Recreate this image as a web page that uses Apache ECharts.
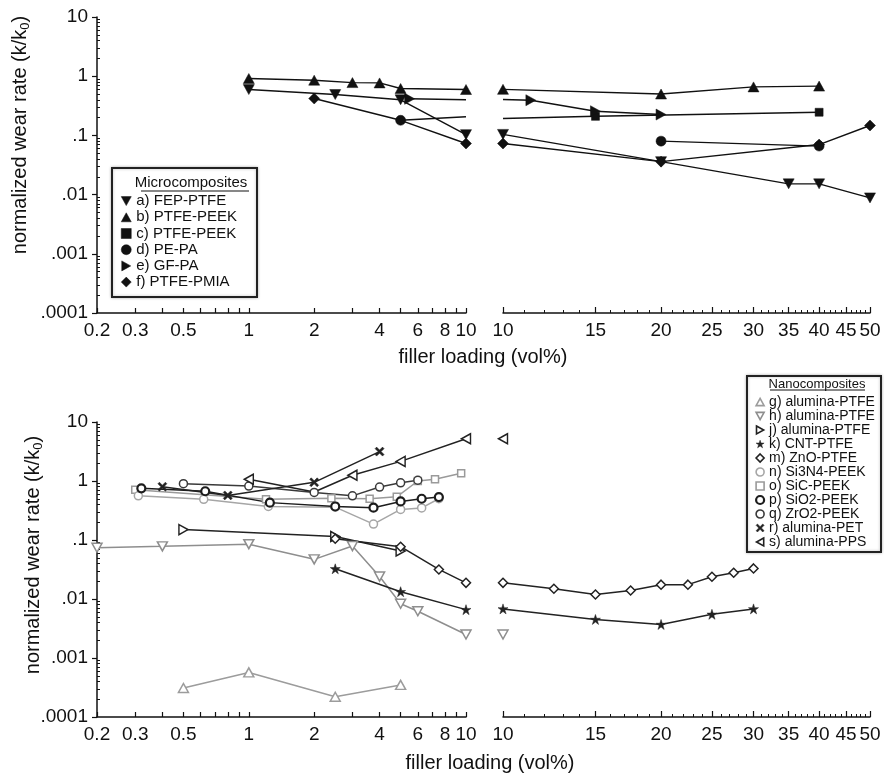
<!DOCTYPE html>
<html><head><meta charset="utf-8">
<script src="https://cdn.jsdelivr.net/npm/echarts@6/dist/echarts.min.js"></script>
<style>html,body{margin:0;padding:0;background:#fff}#c{width:884px;height:774px}</style>
</head><body><div id="c"></div>
<script>
// ---------- tick labels ----------
const xLeftLabels = [0.2, 0.3, 0.5, 1, 2, 4, 6, 8, 10];
const xLeftTicks = [0.2, 0.3, 0.4, 0.5, 0.6, 0.7, 0.8, 0.9, 1, 2, 3, 4, 5, 6, 7, 8, 9, 10];
const xRightLabels = [10, 15, 20, 25, 30, 35, 40, 45, 50];
const xRightMinorTicks = [11,12,13,14,16,17,18,19,21,22,23,24,26,27,28,29,31,32,33,34,36,37,38,39,41,42,43,44,46,47,48,49];
const yDecades = [0.0001, 0.001, 0.01, 0.1, 1, 10];
const yMinorMult = [2, 3, 4, 5, 6, 7, 8, 9];

// ---------- data: [filler loading vol%, normalized wear rate] ; third item 0 = point drawn without marker ----------
// Microcomposites
const a_left  = [[1, 0.595], [2.5, 0.49], [5, 0.40], [10, 0.103]];
const a_right = [[10, 0.104], [20, 0.036], [35, 0.0152], [40, 0.0152], [50, 0.0088]];
const b_left  = [[1, 0.914], [2, 0.856], [3, 0.78], [4, 0.77], [5, 0.62], [10, 0.596]];
const b_right = [[10, 0.60], [20, 0.50], [30, 0.66], [40, 0.68]];
const c_left  = [[5, 0.18, 0], [10, 0.206, 0]];
const c_right = [[10, 0.193, 0], [15, 0.21], [40, 0.246]];
const d_left  = [[5, 0.18]];
const d_right = [[20, 0.08], [40, 0.066]];
const e_left  = [[5.5, 0.415], [10, 0.40, 0]];
const e_right = [[10, 0.404, 0], [11.3, 0.393], [15, 0.256], [20, 0.225]];
const f_left  = [[2, 0.42], [5, 0.18, 0], [10, 0.073]];
const f_right = [[10, 0.073], [20, 0.036], [40, 0.070], [50, 0.147]];
// Nanocomposites
const g_left  = [[0.5, 0.00031], [1, 0.00057], [2.5, 0.00022], [5, 0.00035]];
const h_left  = [[0.2, 0.074], [0.4, 0.078], [1, 0.085], [2, 0.047], [3, 0.079], [4, 0.024], [5, 0.0083], [6, 0.0062], [10, 0.0025]];
const h_right = [[10, 0.0025]];
const j_left  = [[0.5, 0.15], [2.5, 0.115], [5, 0.065]];
const k_left  = [[2.5, 0.0325], [5, 0.0133], [10, 0.0066]];
const k_right = [[10, 0.0068], [15, 0.0045], [20, 0.0037], [25, 0.0055], [30, 0.0068]];
const m_left  = [[2.5, 0.105], [5, 0.077], [7.5, 0.0317], [10, 0.0188]];
const m_right = [[10, 0.0188], [12.5, 0.0149], [15, 0.0119], [17.5, 0.0139], [20, 0.0175], [22.5, 0.0175], [25, 0.0238], [27.5, 0.0278], [30, 0.033]];
const n_left  = [[0.31, 0.56], [0.62, 0.49], [1.23, 0.37], [2.5, 0.36], [3.75, 0.186], [5, 0.33], [6.25, 0.35], [7.5, 0.5]];
const o_left  = [[0.3, 0.71], [1.2, 0.49], [2.4, 0.51], [3.6, 0.5], [4.8, 0.54], [6, 1.0], [7.2, 1.07], [9.5, 1.35]];
const p_left  = [[0.32, 0.75], [0.63, 0.67], [1.25, 0.43], [2.5, 0.37], [3.75, 0.353], [5, 0.45], [6.25, 0.5], [7.5, 0.535]];
const q_left  = [[0.5, 0.9], [1, 0.82], [2, 0.64], [3, 0.56], [4, 0.79], [5, 0.93], [6, 1.03]];
const r_left  = [[0.4, 0.8], [0.8, 0.57], [2, 0.95], [4, 3.15]];
const s_left  = [[1, 1.07], [2, 0.65, 0], [3, 1.25], [5, 2.15], [10, 5.2]];
const s_right = [[10, 5.2]];

// ---------- styles ----------
const FONT = '"Liberation Sans", Arial, Helvetica, sans-serif';
const SYM = {
  triDown: 'path://M0,0L10,0L5,9Z',
  triUp: 'path://M5,0L10,9L0,9Z',
  triRight: 'path://M0,0L9,5L0,10Z',
  triLeft: 'path://M9,0L0,5L9,10Z',
  star: 'path://M5,0L6.2,3.6L10,3.6L6.9,5.8L8.1,9.5L5,7.2L1.9,9.5L3.1,5.8L0,3.6L3.8,3.6Z',
  cross: 'path://M0,1.7L1.7,0L5,3.3L8.3,0L10,1.7L6.7,5L10,8.3L8.3,10L5,6.7L1.7,10L0,8.3L3.3,5Z',
  circle: 'circle', rect: 'rect', diamond: 'diamond'
};
const AX = { TL: [0, 0], TR: [1, 2], BL: [3, 3], BR: [4, 5] };

const topDefs = [
  { name: 'a) FEP-PTFE', sym: 'triDown', size: [11, 10], parts: { TL: a_left, TR: a_right } },
  { name: 'b) PTFE-PEEK', sym: 'triUp', size: [11, 10], parts: { TL: b_left, TR: b_right } },
  { name: 'c) PTFE-PEEK', sym: 'rect', size: 8, parts: { TL: c_left, TR: c_right } },
  { name: 'e) GF-PA', sym: 'triRight', size: [10, 11], parts: { TL: e_left, TR: e_right } },
  { name: 'f) PTFE-PMIA', sym: 'diamond', size: 11, parts: { TL: f_left, TR: f_right } },
  { name: 'd) PE-PA', sym: 'circle', size: 10, parts: { TL: d_left, TR: d_right } }
];
const topLegendOrder = ['a) FEP-PTFE', 'b) PTFE-PEEK', 'c) PTFE-PEEK', 'd) PE-PA', 'e) GF-PA', 'f) PTFE-PMIA'];

const botDefs = [
  { name: 'g) alumina-PTFE', sym: 'triUp', size: [10, 9], color: '#9c9c9c', parts: { BL: g_left } },
  { name: 'h) alumina-PTFE', sym: 'triDown', size: [10, 9], color: '#8e8e8e', parts: { BL: h_left, BR: h_right } },
  { name: 'o) SiC-PEEK', sym: 'rect', size: 7, color: '#9a9a9a', parts: { BL: o_left } },
  { name: 'n) Si3N4-PEEK', sym: 'circle', size: 8, color: '#a6a6a6', parts: { BL: n_left } },
  { name: 'q) ZrO2-PEEK', sym: 'circle', size: 8, color: '#3a3a3a', parts: { BL: q_left } },
  { name: 'p) SiO2-PEEK', sym: 'circle', size: 8, color: '#1c1c1c', bw: 2.2, parts: { BL: p_left } },
  { name: 'r) alumina-PET', sym: 'cross', size: 9, color: '#222', filled: true, parts: { BL: r_left } },
  { name: 's) alumina-PPS', sym: 'triLeft', size: [9, 10], color: '#222', parts: { BL: s_left, BR: s_right } },
  { name: 'j) alumina-PTFE', sym: 'triRight', size: [9, 10], color: '#222', parts: { BL: j_left } },
  { name: 'm) ZnO-PTFE', sym: 'diamond', size: 9, color: '#222', parts: { BL: m_left, BR: m_right } },
  { name: 'k) CNT-PTFE', sym: 'star', size: 10, color: '#222', filled: true, parts: { BL: k_left, BR: k_right } }
];
const botLegendOrder = ['g) alumina-PTFE', 'h) alumina-PTFE', 'j) alumina-PTFE', 'k) CNT-PTFE', 'm) ZnO-PTFE',
  'n) Si3N4-PEEK', 'o) SiC-PEEK', 'p) SiO2-PEEK', 'q) ZrO2-PEEK', 'r) alumina-PET', 's) alumina-PPS'];

// ---------- build ----------
function toData(arr) {
  return arr.map(p => p[2] === 0 ? { value: [p[0], p[1]], symbol: 'none' } : [p[0], p[1]]);
}
function itemStyleOf(d, top) {
  if (top) return { color: '#111', borderColor: '#111', borderWidth: 0.5 };
  if (d.filled) return { color: d.color, borderColor: d.color, borderWidth: 0.5 };
  return { color: '#fff', borderColor: d.color, borderWidth: d.bw || 1.5 };
}
const series = [];
function addDefs(defs, top) {
  defs.forEach(d => {
    Object.keys(d.parts).forEach(k => {
      const ax = AX[k];
      series.push({
        type: 'line', name: d.name, xAxisIndex: ax[0], yAxisIndex: ax[1],
        data: toData(d.parts[k]), symbol: SYM[d.sym], symbolSize: d.size,
        symbolKeepAspect: false, clip: false, animation: false,
        lineStyle: { color: top ? '#111' : d.color, width: top ? 1.4 : 1.5 },
        itemStyle: itemStyleOf(d, top), emphasis: { disabled: true }
      });
    });
  });
}
addDefs(topDefs, true);
addDefs(botDefs, false);

function legendData(order, defs, top) {
  return order.map(n => {
    const d = defs.find(x => x.name === n);
    const st = itemStyleOf(d, top);
    if (!top && !d.filled) st.borderWidth = Math.max(1.6, d.bw || 1.6);
    return { name: n, icon: SYM[d.sym], itemStyle: st };
  });
}

const yMinor = [];
yDecades.slice(0, -1).forEach(dv => yMinorMult.forEach(m => yMinor.push(+(dv * m).toPrecision(3))));
const yFmt = v => { const s = String(+v.toPrecision(6)); return v < 1 ? s.replace(/^0/, '') : s; };
const tickLabel = { fontFamily: FONT, fontSize: 19, color: '#111' };

function xMain(grid, min, max, ticks, labels, tickLen) {
  return {
    type: 'log', logBase: 10, gridIndex: grid, min: min, max: max, position: 'bottom',
    axisLine: { show: true, lineStyle: { color: '#111', width: 1.5 } },
    axisTick: { show: true, inside: true, length: tickLen, customValues: ticks, lineStyle: { color: '#111', width: 1.2 } },
    axisLabel: Object.assign({ show: true, customValues: labels, margin: 8, formatter: v => String(+(+v).toPrecision(6)) }, tickLabel),
    splitLine: { show: false }, minorTick: { show: false }
  };
}
function xMinor(grid, min, max, ticks) {
  return {
    type: 'log', logBase: 10, gridIndex: grid, min: min, max: max, position: 'bottom',
    axisLine: { show: false },
    axisTick: { show: true, inside: true, length: 3, customValues: ticks, lineStyle: { color: '#111', width: 1 } },
    axisLabel: { show: false }, splitLine: { show: false }
  };
}
function yMain(grid) {
  return {
    type: 'log', logBase: 10, gridIndex: grid, min: 0.0001, max: 10, position: 'left',
    axisLine: { show: true, lineStyle: { color: '#111', width: 1.5 } },
    axisTick: { show: true, inside: false, length: 5, customValues: yDecades, lineStyle: { color: '#111', width: 1.2 } },
    axisLabel: Object.assign({ show: true, customValues: yDecades, margin: 9, formatter: yFmt }, tickLabel),
    splitLine: { show: false }
  };
}
function yMinorAx(grid) {
  return {
    type: 'log', logBase: 10, gridIndex: grid, min: 0.0001, max: 10, position: 'left',
    axisLine: { show: false },
    axisTick: { show: true, inside: true, length: 3, customValues: yMinor, lineStyle: { color: '#111', width: 1 } },
    axisLabel: { show: false }, splitLine: { show: false }
  };
}
function yHidden(grid) {
  return { type: 'log', logBase: 10, gridIndex: grid, min: 0.0001, max: 10, show: false, splitLine: { show: false } };
}

const titleStyle = { fontFamily: FONT, fontSize: 20, fill: '#111' };
function yTitle(x, y) {
  return {
    type: 'text', x: x, y: y, rotation: Math.PI / 2,
    style: {
      text: '{a|normalized wear rate (k/k}{s|0}{a|)}',
      align: 'center', verticalAlign: 'middle',
      rich: { a: { fontFamily: FONT, fontSize: 20, fill: '#111', lineHeight: 24, verticalAlign: 'middle' },
              s: { fontFamily: FONT, fontSize: 13, fill: '#111', lineHeight: 24, verticalAlign: 'bottom' } }
    }
  };
}

const option = {
  backgroundColor: '#fff',
  animation: false,
  grid: [
    { left: 97, top: 17, width: 369, height: 296 },
    { left: 503, top: 17, width: 367, height: 296 },
    { left: 97, top: 422, width: 369, height: 295 },
    { left: 503, top: 422, width: 367, height: 295 }
  ],
  xAxis: [
    xMain(0, 0.2, 10, xLeftTicks, xLeftLabels, 5),
    xMain(1, 10, 50, xRightLabels, xRightLabels, 6),
    xMinor(1, 10, 50, xRightMinorTicks),
    xMain(2, 0.2, 10, xLeftTicks, xLeftLabels, 5),
    xMain(3, 10, 50, xRightLabels, xRightLabels, 6),
    xMinor(3, 10, 50, xRightMinorTicks)
  ],
  yAxis: [yMain(0), yMinorAx(0), yHidden(1), yMain(2), yMinorAx(2), yHidden(3)],
  legend: [
    { left: 121, top: 193, orient: 'vertical', padding: 0, itemWidth: 10, itemHeight: 10, itemGap: 0,
      selectedMode: false, symbolKeepAspect: true,
      textStyle: { fontFamily: FONT, fontSize: 15, color: '#111', lineHeight: 16.2 },
      data: legendData(topLegendOrder, topDefs, true) },
    { left: 755, top: 395, orient: 'vertical', padding: 0, itemWidth: 8, itemHeight: 8, itemGap: 0,
      selectedMode: false, symbolKeepAspect: true,
      textStyle: { fontFamily: FONT, fontSize: 14, color: '#111', lineHeight: 13.6 },
      data: legendData(botLegendOrder, botDefs, false) }
  ],
  graphic: [
    { type: 'rect', z: 1, shape: { x: 112, y: 168, width: 145, height: 129 },
      style: { fill: '#fff', stroke: '#222', lineWidth: 2, shadowBlur: 3, shadowColor: 'rgba(0,0,0,0.25)' } },
    { type: 'text', z: 5, x: 191, y: 183, style: { text: 'Microcomposites', align: 'center', verticalAlign: 'middle', fontFamily: FONT, fontSize: 15, fill: '#111' } },
    { type: 'line', z: 5, shape: { x1: 141, y1: 191, x2: 249, y2: 191 }, style: { stroke: '#111', lineWidth: 1.2 } },
    { type: 'rect', z: 1, shape: { x: 747, y: 376, width: 134, height: 176 },
      style: { fill: '#fff', stroke: '#222', lineWidth: 2, shadowBlur: 3, shadowColor: 'rgba(0,0,0,0.25)' } },
    { type: 'text', z: 5, x: 817, y: 384, style: { text: 'Nanocomposites', align: 'center', verticalAlign: 'middle', fontFamily: FONT, fontSize: 13, fill: '#111' } },
    { type: 'line', z: 5, shape: { x1: 770, y1: 390, x2: 865, y2: 390 }, style: { stroke: '#111', lineWidth: 1.2 } },
    yTitle(20, 135),
    yTitle(33, 555),
    { type: 'text', x: 483, y: 357, style: Object.assign({ text: 'filler loading (vol%)', align: 'center', verticalAlign: 'middle' }, titleStyle) },
    { type: 'text', x: 490, y: 763, style: Object.assign({ text: 'filler loading (vol%)', align: 'center', verticalAlign: 'middle' }, titleStyle) }
  ],
  series: series
};
const chart = echarts.init(document.getElementById('c'), null, { renderer: 'canvas' });
chart.setOption(option);
</script></body></html>
